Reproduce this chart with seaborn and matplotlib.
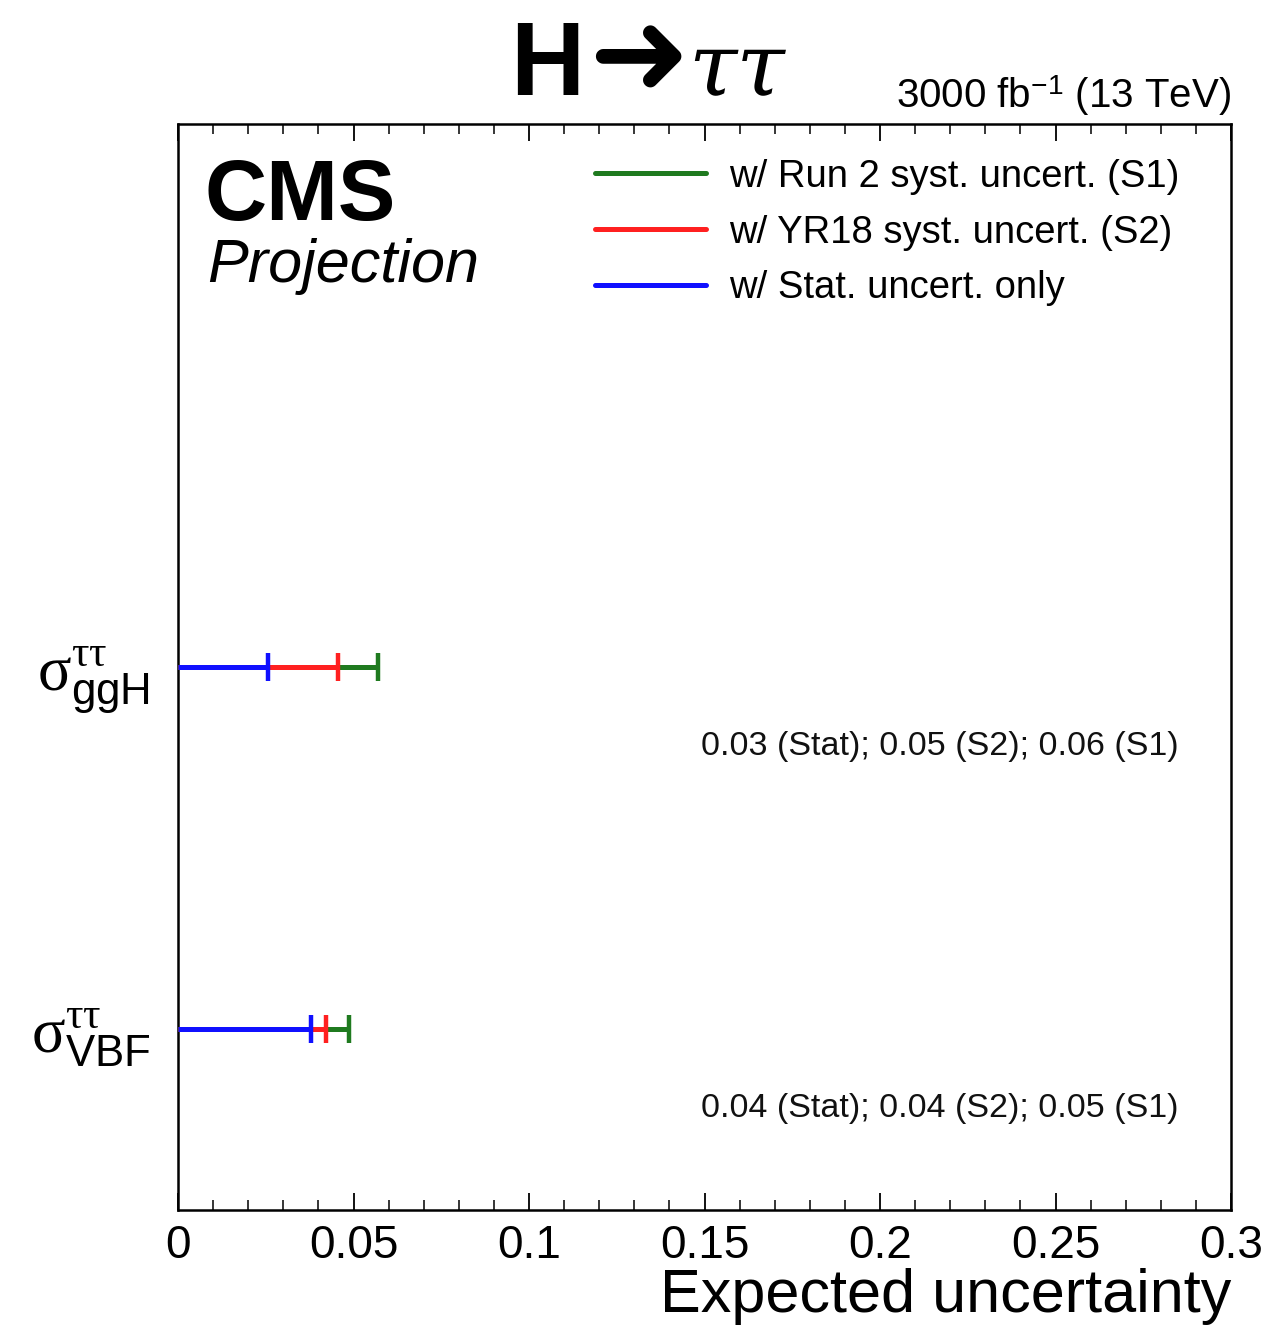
import numpy as np
import pandas as pd
import seaborn as sns
import matplotlib
matplotlib.use("Agg")
import matplotlib.pyplot as plt
from matplotlib.ticker import MultipleLocator
from matplotlib.lines import Line2D

# ---- data ----
categories = ["ggH", "VBF"]
cat_labels = [r"$\mathrm{\sigma}^{\mathrm{\tau\tau}}_{\mathsf{ggH}}$",
              r"$\mathrm{\sigma}^{\mathrm{\tau\tau}}_{\mathsf{VBF}}$"]
cat_pos = [1.5, 0.5]
stat_vals = [0.0256, 0.0379]
s2_vals = [0.0456, 0.0422]
s1_vals = [0.0570, 0.0487]
scenario_names = ["w/ Run 2 syst. uncert. (S1)", "w/ YR18 syst. uncert. (S2)", "w/ Stat. uncert. only"]
scenario_colors = ["#1f7a1f", "#ff2020", "#1010ff"]
xticks = [0, 0.05, 0.1, 0.15, 0.2, 0.25, 0.3]
xtick_labels = ["0", "0.05", "0.1", "0.15", "0.2", "0.25", "0.3"]

sns.set_style("ticks")
plt.rcParams["font.family"] = ["Liberation Sans", "DejaVu Sans"]
plt.rcParams["mathtext.fontset"] = "custom"
plt.rcParams["mathtext.rm"] = "Liberation Serif"
plt.rcParams["mathtext.it"] = "Liberation Serif:italic"
plt.rcParams["mathtext.sf"] = "Liberation Sans"
plt.rcParams["mathtext.bf"] = "Liberation Sans:bold"
for k in ["text.color", "axes.labelcolor", "xtick.color", "ytick.color", "axes.edgecolor"]:
    plt.rcParams[k] = "black"

df = pd.DataFrame({
    "cat": categories * 3,
    "y": cat_pos * 3,
    "val": s1_vals + s2_vals + stat_vals,
    "scen": [scenario_names[0]] * 2 + [scenario_names[1]] * 2 + [scenario_names[2]] * 2,
})

fig = plt.figure(figsize=(12.61, 13.26), dpi=100)
ax = fig.add_axes([178 / 1261, 1 - 1210 / 1326, (1231 - 178) / 1261, (1210 - 124) / 1326])

palette = dict(zip(scenario_names, scenario_colors))
for scen in scenario_names:
    sub = df[df["scen"] == scen]
    ax.hlines(sub["y"], 0, sub["val"], color=palette[scen], lw=3.6, zorder=3)
    sns.scatterplot(data=sub, x="val", y="y", marker="|", s=420, linewidth=3.2,
                    color=palette[scen], ax=ax, zorder=4, legend=False)

ax.set_xlim(0, 0.3)
ax.set_ylim(0, 3)
ax.set_xticks(xticks)
ax.set_xticklabels(xtick_labels, fontsize=33)
ax.xaxis.set_minor_locator(MultipleLocator(0.01))
ax.tick_params(axis="x", which="major", direction="in", length=12, width=1.3, top=True, pad=10)
ax.tick_params(axis="x", which="minor", direction="in", length=7, width=1.1, top=True)
ax.set_yticks(cat_pos)
ax.set_yticklabels(cat_labels, fontsize=45)
ax.tick_params(axis="y", length=0, pad=20)
for sp in ax.spines.values():
    sp.set_linewidth(1.8)
    sp.set_color("black")
ax.set_xlabel("Expected uncertainty", fontsize=44, loc="right", labelpad=0)
ax.set_ylabel("")

# annotations
for y, a, b, c in zip(cat_pos, stat_vals, s2_vals, s1_vals):
    ax.text(0.149, y - 0.22, f"{a:.2f} (Stat); {b:.2f} (S2); {c:.2f} (S1)",
            fontsize=24.5, ha="left", va="center", color="#111111")

# legend
handles = [Line2D([], [], color=c, lw=3.6) for c in scenario_colors]
ax.legend(handles, scenario_names, loc="upper left", bbox_to_anchor=(0.396, 0.968),
          frameon=False, fontsize=27.5, handlelength=2.9, handletextpad=0.62,
          labelspacing=0.52, borderpad=0, borderaxespad=0)

# CMS labels
ax.text(205 / 1261, 1 - 220 / 1326, "CMS", transform=fig.transFigure, fontsize=62,
        fontweight="bold", ha="left", va="baseline")
ax.text(207 / 1261, 1 - 282 / 1326, "Projection", transform=fig.transFigure, fontsize=44,
        fontstyle="italic", ha="left", va="baseline")

# title
fig.text(510 / 1261, 1 - 95 / 1326, "H", fontsize=74, fontweight="bold",
         family=["Liberation Sans"], ha="left", va="baseline")
fig.text(588 / 1261, 1 - 95 / 1326, "\u279c", fontsize=87,
         family=["DejaVu Sans"], ha="left", va="baseline")
fig.text(688 / 1261, 1 - 95 / 1326, "\u03c4\u03c4", fontsize=63, fontstyle="italic",
         family=["DejaVu Serif", "Liberation Serif"], ha="left", va="baseline")
fig.text(1231 / 1261, 1 - 108 / 1326, r"3000 fb$^{\mathsf{-1}}$ (13 TeV)", fontsize=29,
         ha="right", va="baseline")

fig.savefig("out.png", dpi=100)
